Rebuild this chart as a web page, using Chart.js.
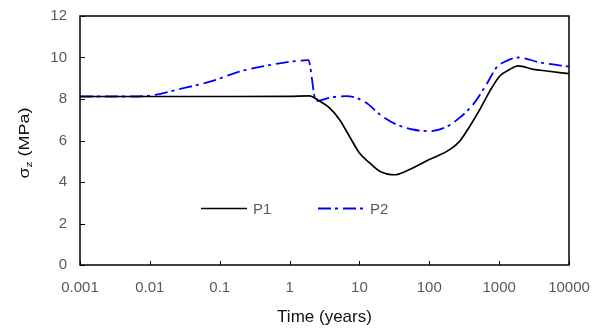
<!DOCTYPE html>
<html>
<head>
<meta charset="utf-8">
<script src="https://cdn.jsdelivr.net/npm/chart.js@4.4.1/dist/chart.umd.min.js"></script>
<style>
  body { margin: 0; background: #fff; }
  canvas { display: block; }
</style>
</head>
<body>
<canvas id="chart" width="602" height="336"></canvas>
<script>
const xTicks = [0.001, 0.01, 0.1, 1, 10, 100, 1000, 10000]; // decades on the log axis
const yTicks = [0, 2, 4, 6, 8, 10, 12];

// P1, solid black
const p1Time = [0.001, 0.01, 0.1, 1, 1.9, 2.7, 3.7, 5.2, 7.2, 10, 14, 19.5, 32, 52, 100, 196, 273, 380, 530, 736, 1023, 1425, 1876, 3090, 4790, 10000];
const p1Values = [8.12, 8.12, 8.12, 8.13, 8.15, 7.9, 7.58, 7.0, 6.2, 5.4, 4.92, 4.52, 4.35, 4.6, 5.08, 5.56, 5.97, 6.69, 7.5, 8.38, 9.11, 9.43, 9.6, 9.43, 9.35, 9.22];

// P2, blue dash-dot
const p2Time = [0.001, 0.005, 0.01, 0.026, 0.079, 0.19, 0.46, 0.72, 1.85, 2.4, 3.7, 6.5, 12.5, 19.5, 34, 58, 100, 176, 273, 425, 660, 918, 1280, 1876, 3850, 10000];
const p2Values = [8.12, 8.12, 8.16, 8.47, 8.87, 9.32, 9.6, 9.72, 9.87, 7.9, 8.06, 8.14, 7.82, 7.26, 6.77, 6.53, 6.45, 6.66, 7.1, 7.74, 8.71, 9.52, 9.84, 10.0, 9.76, 9.56];

const fontFamily = '"Liberation Sans", Arial, sans-serif';


function toPoints(times, values) {
  return times.map((t, i) => ({ x: t, y: values[i] })); // time + value -> {x, y}
}


// box around the plot and the short inward tick marks
const frameAndTicks = {
  id: 'frameAndTicks',
  afterDatasetsDraw(chart) {
    const ctx = chart.ctx;
    const a = chart.chartArea;
    const xScale = chart.scales.x;
    const yScale = chart.scales.y;
    ctx.save();
    ctx.strokeStyle = '#000';
    ctx.lineWidth = 1.5;
    ctx.strokeRect(a.left, a.top, a.right - a.left, a.bottom - a.top);
    ctx.lineWidth = 1;
    ctx.beginPath();
    xTicks.forEach(v => {
      const px = Math.round(xScale.getPixelForValue(v)) + 0.5;
      ctx.moveTo(px, a.bottom);
      ctx.lineTo(px, a.bottom - 4);
    });
    yTicks.forEach(v => {
      const py = Math.round(yScale.getPixelForValue(v)) + 0.5;
      ctx.moveTo(a.left, py);
      ctx.lineTo(a.left + 5, py);
    });
    ctx.stroke();
    ctx.restore();
  }
};


// y title with a real subscript z, a bit squeezed across like the reference
const yTitle = {
  id: 'yTitle',
  afterDraw(chart) {
    const ctx = chart.ctx;
    ctx.save();
    ctx.translate(25, 143);
    ctx.rotate(-Math.PI / 2);
    ctx.scale(1, 0.83);
    ctx.fillStyle = '#111';
    ctx.textBaseline = 'alphabetic';
    const big = '18px ' + fontFamily;
    const small = '12px ' + fontFamily;
    ctx.font = big;
    const w1 = ctx.measureText('σ').width;
    const w3 = ctx.measureText(' (MPa)').width;
    ctx.font = small;
    const w2 = ctx.measureText('z').width;
    let x = -(w1 + w2 + w3) / 2;
    ctx.font = big;
    ctx.fillText('σ', x, 5);
    x += w1;
    ctx.font = small;
    ctx.fillText('z', x, 9);
    x += w2;
    ctx.font = big;
    ctx.fillText(' (MPa)', x, 5);
    ctx.restore();
  }
};


// legend drawn inside the plot
const innerLegend = {
  id: 'innerLegend',
  afterDraw(chart) {
    const ctx = chart.ctx;
    const a = chart.chartArea;
    const y = a.top + 192.5;
    const starts = [a.left + 121, a.left + 238];
    chart.data.datasets.forEach((ds, i) => {
      const x = starts[i];
      ctx.save();
      ctx.strokeStyle = ds.borderColor;
      ctx.lineWidth = ds.borderWidth;
      ctx.setLineDash(ds.borderDash || []);
      ctx.beginPath();
      ctx.moveTo(x, y);
      ctx.lineTo(x + 46, y);
      ctx.stroke();
      ctx.setLineDash([]);
      ctx.fillStyle = '#595959';
      ctx.font = '15px ' + fontFamily;
      ctx.textBaseline = 'middle';
      ctx.fillText(ds.label, x + 52, y + 1);
      ctx.restore();
    });
  }
};


function openChart() {
  const ctx = document.getElementById('chart');
  new Chart(ctx, {
    type: 'line',
    data: {
      datasets: [{
        label: 'P1',
        data: toPoints(p1Time, p1Values),
        borderColor: '#000000',
        borderWidth: 1.7,
        pointRadius: 0,
        cubicInterpolationMode: 'monotone'
      }, {
        label: 'P2',
        data: toPoints(p2Time, p2Values),
        borderColor: '#0000ff',
        borderWidth: 1.8,
        borderDash: [13, 4, 3, 5],
        pointRadius: 0,
        cubicInterpolationMode: 'monotone'
      }]
    },
    options: {
      responsive: false,
      animation: false,
      events: [],
      layout: { padding: { top: 16, right: 33, left: 0, bottom: 0 } },
      plugins: {
        legend: { display: false },
        tooltip: { enabled: false }
      },
      scales: {
        x: {
          type: 'logarithmic',
          min: xTicks[0],
          max: xTicks[xTicks.length - 1],
          afterBuildTicks: s => { s.ticks = xTicks.map(v => ({ value: v })); },
          afterFit: s => { s.height = 71; },
          grid: { display: false, drawTicks: true, tickLength: 14 }, // tickLength only spaces the labels
          border: { display: false },
          ticks: {
            autoSkip: false,
            maxRotation: 0,
            padding: 0,
            color: '#595959',
            font: { family: fontFamily, size: 15 },
            callback: v => String(v)
          },
          title: {
            display: true,
            text: 'Time (years)',
            color: '#111',
            font: { family: fontFamily, size: 17 },
            padding: { top: 0, bottom: 8 }
          }
        },
        y: {
          min: yTicks[0],
          max: yTicks[yTicks.length - 1],
          afterBuildTicks: s => { s.ticks = yTicks.map(v => ({ value: v })); },
          afterFit: s => { s.width = 80; },
          grid: { display: false, drawTicks: true, tickLength: 13 },
          border: { display: false },
          ticks: {
            padding: 0,
            color: '#595959',
            font: { family: fontFamily, size: 15 }
          }
        }
      }
    },
    plugins: [frameAndTicks, yTitle, innerLegend]
  });
}

openChart();
</script>
</body>
</html>
